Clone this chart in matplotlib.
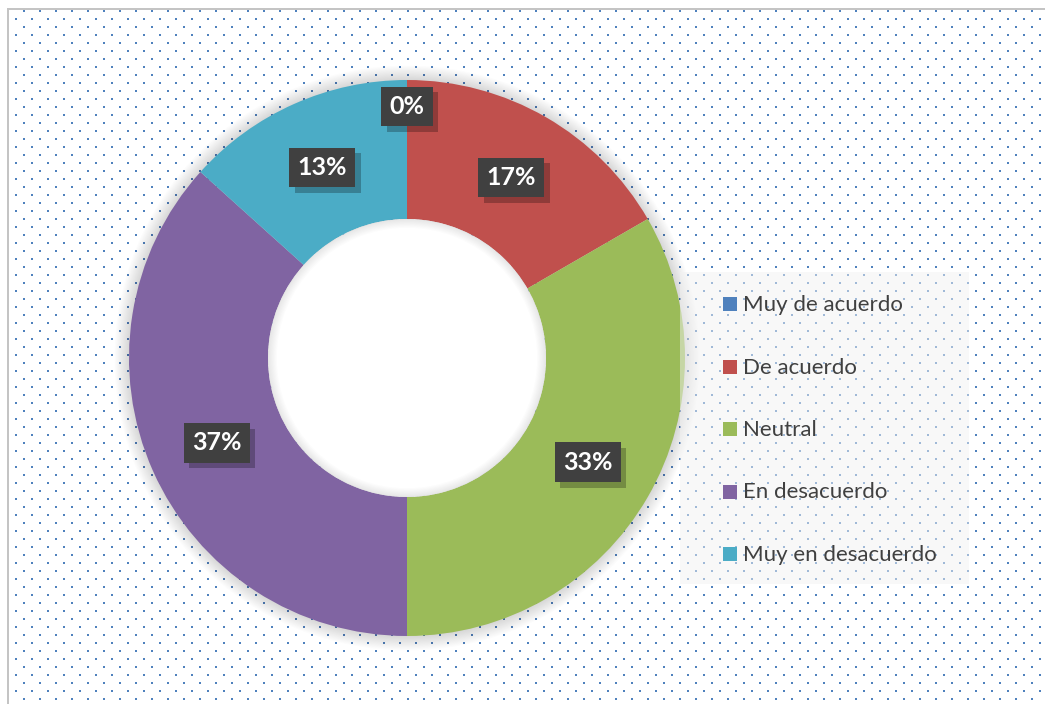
import numpy as np
import matplotlib
matplotlib.use("Agg")
import matplotlib.pyplot as plt
from matplotlib.patches import Circle, Wedge, Rectangle
from matplotlib import patheffects as pe

# ---------------- data ----------------
categories = ["Muy de acuerdo", "De acuerdo", "Neutral", "En desacuerdo", "Muy en desacuerdo"]
counts = [0, 5, 10, 11, 4]
pct_labels = ["0%", "17%", "33%", "37%", "13%"]
colors = ["#4F81BD", "#C0504D", "#9BBB59", "#8064A2", "#4BACC6"]

W, H = 1045, 704
fig = plt.figure(figsize=(W / 100, H / 100), dpi=100)
fig.patch.set_facecolor("white")

# ---------------- dotted background ----------------
bg = np.ones((H, W, 3))
dot = np.array([0x4F, 0x81, 0xBD]) / 255.0
for k, y in enumerate(range(10, H, 8)):
    x0 = 23 if k % 2 == 0 else 15
    for x in range(x0, W, 16):
        bg[y:y + 2, x:x + 2] = dot
gray = np.array([0xC4, 0xC4, 0xC4]) / 255.0
bg[8:10, 7:] = gray
bg[8:, 7:9] = gray
fig.figimage(bg, xo=0, yo=0, origin="upper", zorder=-10)

# ---------------- donut ----------------
cx, cy, R = 407, 358, 278
lim = 1.2
size = 2 * R * lim
ax = fig.add_axes([(cx - size / 2) / W, (H - cy - size / 2) / H, size / W, size / H])
ax.patch.set_alpha(0)

wedges, _ = ax.pie(counts, colors=colors, startangle=90, counterclock=False,
                   radius=1.0, wedgeprops=dict(width=0.5, linewidth=0))
for w in wedges:
    w.set_zorder(2)
ax.set_xlim(-lim, lim)
ax.set_ylim(-lim, lim)
ax.set_aspect("equal")
ax.axis("off")

# soft outer shadow
for i in range(14):
    ax.add_patch(Circle((0, 0.0), 1.0 + 0.004 * i, color="black", alpha=0.013,
                        lw=0, zorder=1))
# white hole with inner soft shadow
ax.add_patch(Circle((0, 0), 0.5, color="white", lw=0, zorder=3))
for i in range(8):
    ax.add_patch(Wedge((0, 0), 0.5, 0, 360, width=0.004 * (i + 1), color="black",
                       alpha=0.010, lw=0, zorder=3.5))

# ---------------- data labels ----------------
total = float(sum(counts))
cum = 0.0
for v, lab in zip(counts, pct_labels):
    mid = 90 - 360.0 * (cum + v / 2.0) / total
    cum += v
    r = 0.75 if v > 0 else 0.905
    x = r * np.cos(np.radians(mid))
    y = r * np.sin(np.radians(mid))
    t = ax.text(x, y, lab, ha="center", va="center", fontsize=18, fontweight="bold",
                family=["Lato", "DejaVu Sans"], color="white", zorder=6,
                bbox=dict(boxstyle="square,pad=0.33", fc="#404040", ec="none"))
    t.get_bbox_patch().set_path_effects(
        [pe.SimplePatchShadow(offset=(4, -4), shadow_rgbFace="black", alpha=0.25), pe.Normal()])

# ---------------- legend ----------------
ftr = fig.transFigure
lx0, ly0, lx1, ly1 = 680, 272, 969, 584
fig.add_artist(Rectangle((lx0 / W, 1 - ly1 / H), (lx1 - lx0) / W, (ly1 - ly0) / H,
                         transform=ftr, fc="#F2F2F2", alpha=0.5, ec="none", zorder=3))

centers = [304, 366.5, 429, 491.5, 554]
texts = []
for cat, col, yc in zip(categories, colors, centers):
    fig.add_artist(Rectangle((723 / W, 1 - (yc + 7) / H), 14 / W, 14 / H,
                             transform=ftr, fc=col, ec="none", zorder=4))
    t = fig.text(743 / W, 1 - (yc + 7) / H, cat, ha="left", va="baseline",
                 fontsize=12, color="#404040", family=["Lato", "DejaVu Sans"], zorder=5)
    texts.append(t)

fig.canvas.draw()
wpx = texts[0].get_window_extent().width
fs = 12 * 159.0 / wpx
for t in texts:
    t.set_fontsize(fs)

fig.savefig("out.png", dpi=100)
